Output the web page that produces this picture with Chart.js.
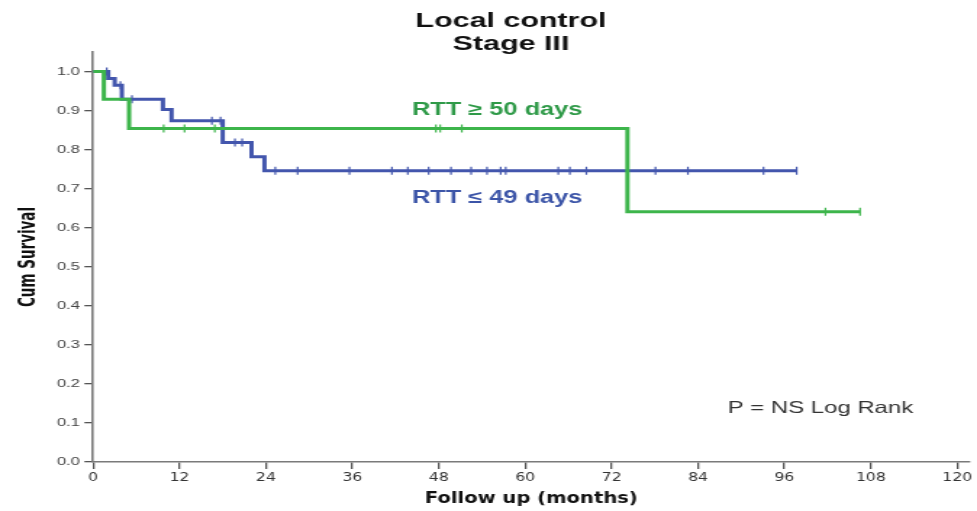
<!DOCTYPE html>
<html>
<head>
<meta charset="utf-8">
<script src="https://cdn.jsdelivr.net/npm/chart.js@4.4.1/dist/chart.umd.min.js"></script>
<style>
  html, body { margin: 0; padding: 0; background: #fff; overflow: hidden; }
  /* the original figure is stretched sideways, so the whole chart is too */
  #wrap { width: 674px; height: 511px; transform: scaleX(1.4496); transform-origin: 0 0; }
</style>
</head>
<body>
<div id="wrap"><canvas id="kmChart" width="674" height="511"></canvas></div>
<script>
// Kaplan-Meier steps (months, cumulative survival)
const greenTimes = [0, 1.5, 5.0, 74.2, 106.5];
const greenSurv = [1.0, 0.929, 0.854, 0.641, 0.641];
const greenCensored = [9.8, 12.7, 16.9, 47.6, 48.2, 51.2, 101.7, 106.5];

const blueTimes = [0, 2.1, 3.0, 4.0, 9.7, 10.9, 18.0, 22.0, 23.8, 97.7];
const blueSurv = [1.0, 0.982, 0.965, 0.929, 0.903, 0.874, 0.818, 0.782, 0.746, 0.746];
const blueCensored = [1.9, 3.8, 5.4, 16.5, 17.7, 19.7, 20.7, 25.3, 28.4, 35.6, 41.5, 43.7, 46.6,
  49.7, 52.5, 54.7, 56.6, 57.3, 64.6, 66.2, 68.5, 78.1, 82.6, 93.1, 97.7];

const xTickValues = [0, 12, 24, 36, 48, 60, 72, 84, 96, 108, 120];
const yTickValues = [0, 0.1, 0.2, 0.3, 0.4, 0.5, 0.6, 0.7, 0.8, 0.9, 1.0];
const yTickLabels = ['0.0', '0.1', '0.2', '0.3', '0.4', '0.5', '0.6', '0.7', '0.8', '0.9', '1.0'];

const GREEN = '#3db54b';
const BLUE = '#4356ad';

function toPoints(times, values) {
  return times.map((t, i) => ({ x: t, y: values[i] }));
}

// level of the step curve at time t (censor marks sit on the curve)
function survAt(times, values, t) {
  let s = values[0];
  for (let i = 0; i < times.length; i++) {
    if (times[i] <= t) s = values[i];
  }
  return s;
}

function censorPoints(censored, times, values) {
  return censored.map(t => ({ x: t, y: survAt(times, values, t) }));
}

// title and in-plot labels
const textPlugin = {
  id: 'kmTexts',
  afterDraw(chart) {
    const ctx = chart.ctx;
    ctx.save();
    ctx.textAlign = 'center';
    ctx.textBaseline = 'middle';
    ctx.fillStyle = '#111';
    ctx.font = 'bold 21px "Liberation Sans", Arial, sans-serif';
    ctx.fillText('Local control', 352.5, 21);
    ctx.fillText('Stage III', 352.5, 44);

    ctx.font = 'bold 17.5px "Liberation Sans", Arial, sans-serif';
    ctx.fillStyle = '#2f9a48';
    ctx.fillText('RTT \u2265 50 days', 343, 110);
    ctx.fillStyle = '#3c55a8';
    ctx.fillText('RTT \u2264 49 days', 343, 198);

    ctx.font = '16.5px "Liberation Sans", Arial, sans-serif';
    ctx.fillStyle = '#333';
    ctx.fillText('P = NS Log Rank', 566, 408);
    ctx.restore();
  }
};

const censorStyle = {
  type: 'line',
  showLine: false,
  pointStyle: 'line',
  rotation: 90,
  pointRadius: 4,
  pointHoverRadius: 4,
  pointBorderWidth: 1.2
};

new Chart(document.getElementById('kmChart'), {
  type: 'line',
  data: {
    datasets: [
      {
        label: 'RTT >= 50 days',
        data: toPoints(greenTimes, greenSurv),
        borderColor: GREEN,
        borderWidth: 3,
        stepped: 'before',
        pointRadius: 0,
        fill: false
      },
      Object.assign({
        label: 'RTT >= 50 days censored',
        data: censorPoints(greenCensored, greenTimes, greenSurv),
        borderColor: GREEN,
        backgroundColor: GREEN
      }, censorStyle),
      {
        label: 'RTT <= 49 days',
        data: toPoints(blueTimes, blueSurv),
        borderColor: BLUE,
        borderWidth: 3,
        stepped: 'before',
        pointRadius: 0,
        fill: false
      },
      Object.assign({
        label: 'RTT <= 49 days censored',
        data: censorPoints(blueCensored, blueTimes, blueSurv),
        borderColor: BLUE,
        backgroundColor: BLUE
      }, censorStyle)
    ]
  },
  options: {
    responsive: false,
    devicePixelRatio: 1,
    animation: false,
    layout: { padding: { left: 7, right: 3.5, top: 52, bottom: 0 } },
    plugins: {
      legend: { display: false },
      tooltip: { enabled: false }
    },
    scales: {
      x: {
        type: 'linear',
        min: 0,
        max: 121.7,
        afterBuildTicks: scale => { scale.ticks = xTickValues.map(v => ({ value: v })); },
        afterFit: scale => { scale.height = 49; },
        border: { color: '#7a7a7a', width: 1.6 },
        grid: { drawOnChartArea: false, drawTicks: true, tickLength: 7, color: '#555', lineWidth: 1.3 },
        ticks: {
          color: '#333',
          padding: 2,
          maxRotation: 0,
          autoSkip: false,
          font: { family: '"Liberation Sans Narrow", "DejaVu Sans Condensed", "Liberation Sans", sans-serif', size: 12 }
        },
        title: {
          display: true,
          text: 'Follow up (months)',
          color: '#111',
          padding: { top: 0, bottom: 3 },
          font: { family: '"Liberation Sans Narrow", "DejaVu Sans Condensed", "Liberation Sans", sans-serif', size: 15, weight: 'bold' }
        }
      },
      y: {
        type: 'linear',
        min: 0,
        max: 1.05,
        afterBuildTicks: scale => { scale.ticks = yTickValues.map(v => ({ value: v })); },
        afterFit: scale => { scale.width = 57.2; },
        border: { color: '#7a7a7a', width: 1.6 },
        grid: { drawOnChartArea: false, drawTicks: true, tickLength: 6, color: '#555', lineWidth: 1.3 },
        ticks: {
          color: '#444',
          padding: 3,
          autoSkip: false,
          font: { family: '"Liberation Sans", Arial, sans-serif', size: 11.5 },
          callback: (value, index) => yTickLabels[index]
        },
        title: {
          display: true,
          text: 'Cum Survival',
          color: '#111',
          padding: { top: 4, bottom: 0 },
          font: { family: '"Liberation Sans Narrow", "DejaVu Sans Condensed", "Liberation Sans", sans-serif', size: 15, weight: 'bold' }
        }
      }
    }
  },
  plugins: [textPlugin]
});
</script>
</body>
</html>
